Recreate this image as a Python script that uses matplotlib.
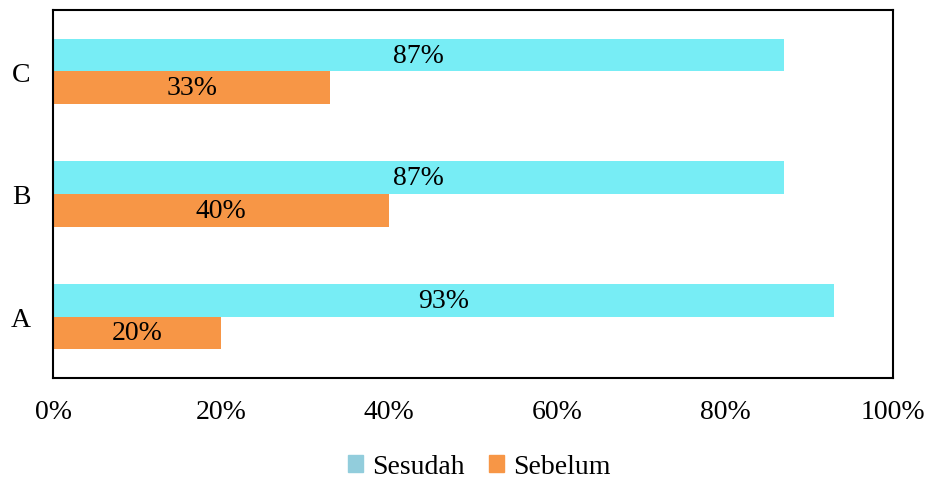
"""Horizontal bar chart: Sesudah vs Sebelum per kategori"""

import matplotlib.pyplot as plt
import numpy as np
from matplotlib.patches import Patch

categories = ['A', 'B', 'C']
sesudah = [0.93, 0.87, 0.87]
sebelum = [0.20, 0.40, 0.33]
tick_labels = ['0%', '20%', '40%', '60%', '80%', '100%']

plt.rcParams['font.family'] = ['Liberation Serif', 'DejaVu Serif']
plt.rcParams['font.size'] = 20

fig = plt.figure(figsize=(9.25, 4.81), dpi=100)
ax = fig.add_axes([53 / 925, 1 - 379 / 481, 840 / 925, 368 / 481])

y = np.arange(len(categories))
h = 0.265
bars1 = ax.barh(y + h / 2, sesudah, h, color='#77EDF5')
bars2 = ax.barh(y - h / 2, sebelum, h, color='#F79646')

# labels in the middle of each bar
for bars in (bars1, bars2):
    for b in bars:
        ax.text(b.get_width() / 2, b.get_y() + b.get_height() / 2,
                f'{round(b.get_width() * 100)}%', ha='center', va='center',
                fontsize=20)

ax.set_xlim(0, 1)
ax.set_ylim(-0.5, 2.5)
ax.set_xticks(np.linspace(0, 1, 6), tick_labels)
ax.set_yticks(y, categories)
ax.tick_params(axis='x', length=0, pad=15)
ax.tick_params(axis='y', length=0, pad=16)
for s in ax.spines.values():
    s.set_linewidth(1.5)

handles = [Patch(color='#92CDDC', label='Sesudah'),
           Patch(color='#F79646', label='Sebelum')]
fig.legend(handles=handles, loc='center', bbox_to_anchor=(0.518, 0.028),
           ncol=2, frameon=False, handlelength=0.55, handleheight=0.55,
           handletextpad=0.3, columnspacing=0.9)

fig.savefig('out.png', dpi=100)
